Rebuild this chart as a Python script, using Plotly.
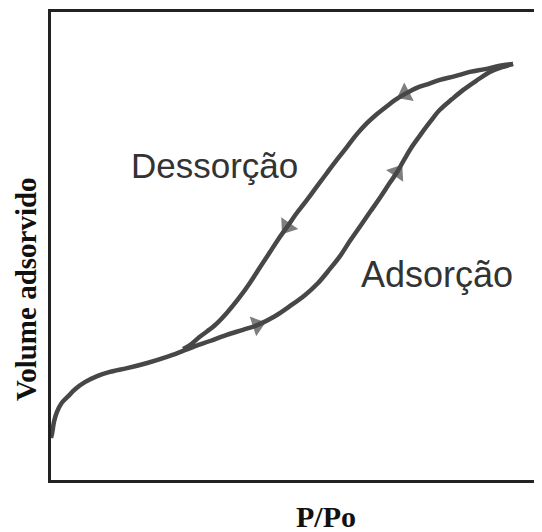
import plotly.graph_objects as go

# isotherm (P/Po, relative volume)
common_x = [0.000, 0.002, 0.006, 0.012, 0.022, 0.035, 0.049, 0.069, 0.094, 0.120, 0.155, 0.196, 0.236, 0.269, 0.289]
common_y = [0.090, 0.098, 0.124, 0.145, 0.165, 0.179, 0.194, 0.209, 0.222, 0.231, 0.239, 0.250, 0.263, 0.276, 0.284]

ads_x = [0.289, 0.324, 0.358, 0.391, 0.420, 0.456, 0.487, 0.517, 0.544, 0.568, 0.589, 0.609, 0.629, 0.650,
         0.670, 0.690, 0.705, 0.719, 0.735, 0.752, 0.772, 0.792, 0.817, 0.839, 0.866, 0.894, 0.919, 0.941]
ads_y = [0.284, 0.297, 0.310, 0.321, 0.331, 0.350, 0.372, 0.395, 0.421, 0.451, 0.479, 0.511, 0.541, 0.573,
         0.603, 0.635, 0.658, 0.684, 0.712, 0.737, 0.765, 0.791, 0.814, 0.833, 0.853, 0.872, 0.882, 0.889]

des_x = [0.941, 0.914, 0.884, 0.853, 0.823, 0.792, 0.768, 0.745, 0.721, 0.701, 0.682, 0.664, 0.644, 0.623,
         0.603, 0.582, 0.562, 0.542, 0.521, 0.501, 0.481, 0.462, 0.446, 0.426, 0.405, 0.383, 0.358, 0.332,
         0.303, 0.283, 0.269]
des_y = [0.889, 0.885, 0.878, 0.872, 0.863, 0.855, 0.846, 0.838, 0.825, 0.812, 0.797, 0.782, 0.763, 0.739,
         0.712, 0.684, 0.656, 0.628, 0.598, 0.571, 0.541, 0.513, 0.487, 0.455, 0.421, 0.389, 0.357, 0.329,
         0.306, 0.288, 0.280]

# where the arrowheads sit on each branch
ads_arrows = [4, 16]
des_arrows = [8, 20]

line_col = "#474747"

fig = go.Figure()
fig.add_trace(go.Scatter(x=common_x + ads_x[1:], y=common_y + ads_y[1:], mode="lines",
                         line=dict(color=line_col, width=4.5, shape="spline"), hoverinfo="skip"))
fig.add_trace(go.Scatter(x=des_x, y=des_y, mode="lines",
                         line=dict(color=line_col, width=4.5, shape="spline"), hoverinfo="skip"))

for xs, ys, idx in [(ads_x, ads_y, ads_arrows), (des_x, des_y, des_arrows)]:
    for i in idx:
        fig.add_trace(go.Scatter(x=[xs[i - 1], xs[i]], y=[ys[i - 1], ys[i]], mode="markers",
                                 marker=dict(symbol="triangle-up", size=[0, 18], color=line_col,
                                             angleref="previous", line=dict(width=0)),
                                 hoverinfo="skip"))

fig.add_annotation(x=0.334, y=0.673, xref="x", yref="y", text="Dessorção", showarrow=False,
                   font=dict(family="Liberation Sans", size=35, color="#333333"))
fig.add_annotation(x=0.786, y=0.440, xref="x", yref="y", text="Adsorção", showarrow=False,
                   font=dict(family="Liberation Sans", size=36, color="#333333"))

# page body has an 8px margin, so the layout is shifted up/left by that much
fig.add_annotation(x=-0.050, y=0.408, xref="paper", yref="paper", text="Volume adsorvido", showarrow=False,
                   textangle=-90, xanchor="center", yanchor="middle",
                   font=dict(family="Liberation Serif", size=29, color="#111111", weight="bold"))
fig.add_annotation(x=0.551, y=-0.079, xref="paper", yref="paper", text="P/Po", showarrow=False,
                   xanchor="center", yanchor="middle",
                   font=dict(family="Liberation Serif", size=30, color="#111111", weight="bold"))

fig.update_layout(
    width=542, height=532,
    margin=dict(l=43, r=0, t=4, b=60),
    paper_bgcolor="white", plot_bgcolor="white",
    showlegend=False,
)
fig.update_xaxes(range=[0, 499 / 491], showgrid=False, zeroline=False, showticklabels=False, ticks="",
                 showline=True, mirror=True, linecolor="#222222", linewidth=3)
fig.update_yaxes(range=[0, 1], showgrid=False, zeroline=False, showticklabels=False, ticks="",
                 showline=True, mirror=False, linecolor="#222222", linewidth=3)

fig.write_html("out.html")
